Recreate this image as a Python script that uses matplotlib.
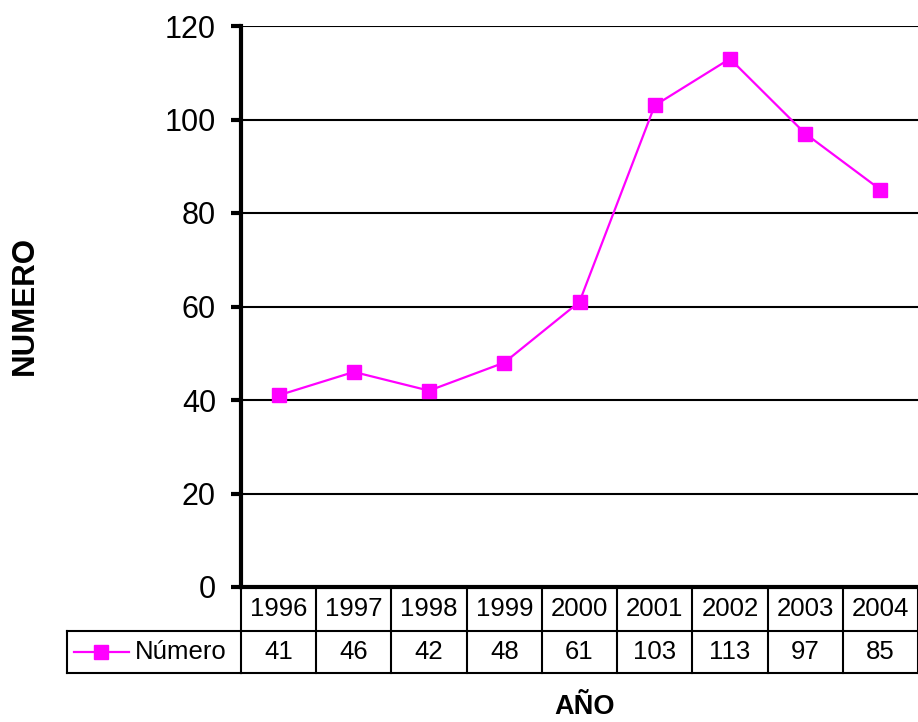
import matplotlib
matplotlib.use("Agg")
import matplotlib.pyplot as plt
from matplotlib.transforms import blended_transform_factory

plt.rcParams['font.family'] = ['Liberation Sans', 'DejaVu Sans']

years = ["1996", "1997", "1998", "1999", "2000", "2001", "2002", "2003", "2004"]
values = [41, 46, 42, 48, 61, 103, 113, 97, 85]
series_name = "Número"
y_ticks = [0, 20, 40, 60, 80, 100, 120]
x_title = "AÑO"
y_title = "NUMERO"
color = "#FF00FF"

W, H = 918, 722
fig = plt.figure(figsize=(W / 100, H / 100), dpi=100)
ax = fig.add_axes([241 / W, 135 / H, 1 - 241 / W, 561 / H])

x = list(range(len(years)))
ax.plot(x, values, color=color, lw=1.6, marker='s', markersize=10,
        markerfacecolor=color, markeredgecolor=color, zorder=3, clip_on=False)

ax.set_xlim(-0.5, len(years) - 0.5)
ax.set_ylim(0, 120)
ax.set_yticks(y_ticks)
ax.set_yticklabels([str(t) for t in y_ticks], fontsize=22)
ax.set_xticks([])
ax.yaxis.grid(True, color='black', lw=1.5)
ax.set_axisbelow(True)
ax.tick_params(axis='y', direction='out', length=7, width=3, pad=11)
for s in ['top', 'right']:
    ax.spines[s].set_visible(False)
ax.spines['left'].set_linewidth(3)
ax.spines['bottom'].set_linewidth(3)
ax.spines['bottom'].set_zorder(4)

# data table below axis
tr = blended_transform_factory(ax.transData, fig.transFigure)
y_top = 135 / H
y_mid = 91 / H
y_bot = 49 / H
lw_t = 1.5
xl = -0.5
xr = len(years) - 0.5
ax.plot([xl, xr], [y_mid, y_mid], transform=tr, color='black', lw=lw_t, clip_on=False)
ax.plot([xl, xr], [y_bot, y_bot], transform=tr, color='black', lw=lw_t, clip_on=False)
for i in range(len(years) + 1):
    ax.plot([i - 0.5, i - 0.5], [y_top, y_bot], transform=tr, color='black',
            lw=lw_t, clip_on=False)
ft = fig.transFigure
fig.add_artist(plt.Line2D([67 / W, 241 / W], [y_mid, y_mid], transform=ft, color='black', lw=lw_t))
fig.add_artist(plt.Line2D([67 / W, 241 / W], [y_bot, y_bot], transform=ft, color='black', lw=lw_t))
fig.add_artist(plt.Line2D([67 / W, 67 / W], [y_mid, y_bot], transform=ft, color='black', lw=lw_t))
ym = (y_mid + y_bot) / 2
fig.add_artist(plt.Line2D([74 / W, 129 / W], [ym, ym], transform=ft, color=color, lw=1.6))
fig.add_artist(plt.Line2D([101 / W], [ym], transform=ft, color=color, marker='s',
                          markersize=10, lw=0))
fig.text(135 / W, ym, series_name, fontsize=18.5, ha='left', va='center')

for i, (yr, v) in enumerate(zip(years, values)):
    ax.text(i, (y_top + y_mid) / 2, yr, transform=tr, fontsize=18.5, ha='center', va='center')
    ax.text(i, ym, str(v), transform=tr, fontsize=18.5, ha='center', va='center')

fig.text(25 / W, 1 - 305 / H, y_title, rotation=90, fontsize=22.5, fontweight='bold',
         ha='center', va='center')
fig.text(585 / W, 1 - 707 / H, x_title, fontsize=19.5, fontweight='bold',
         ha='center', va='center')

fig.savefig("out.png", dpi=100)
